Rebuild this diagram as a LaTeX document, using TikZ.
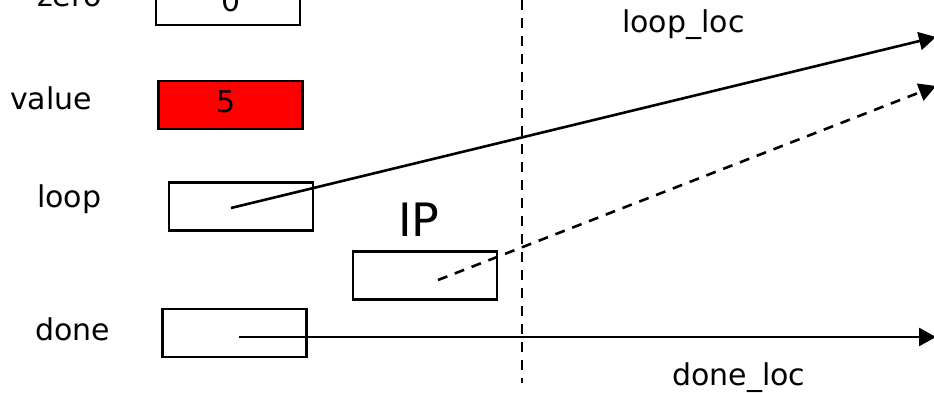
\documentclass[tikz,border=0pt]{standalone}
\usepackage{fontspec}
\setmainfont{DejaVu Sans}
\usetikzlibrary{arrows.meta}
\tikzset{
  cell/.style={draw, line width=2.6pt, minimum width=144pt, minimum height=48pt,
               inner sep=0pt, font=\fontsize{30}{32}\selectfont},
  name label/.style={anchor=base west, inner sep=0pt, font=\fontsize{30}{32}\selectfont},
  pointer/.style={line width=2.6pt, -{Triangle[length=17pt, width=18pt]}},
  dashline/.style={dash pattern=on 10pt off 8pt},
}
\begin{document}
\begin{tikzpicture}[x=1pt, y=-1pt]
  \useasboundingbox (0,0) rectangle (934,393);

  % variable names
  \node[name label] (zerolbl) at (37,7) {zero};
  \node[name label] (valuelbl) at (10,110) {value};
  \node[name label] (looplbl) at (37,207) {loop};
  \node[name label] (donelbl) at (35,340) {done};
  \node[anchor=base west, inner sep=0pt, font=\fontsize{46}{48}\selectfont] (iplbl) at (398,236) {IP};

  % memory cells
  \node[cell] (zero) at (228,1) {};
  \node[anchor=base, inner sep=0pt, font=\fontsize{30}{32}\selectfont] (zeroval) at (231,12) {0};
  \node[cell, fill=red] (value) at (230.5,105) {};
  \node[anchor=base, inner sep=0pt, font=\fontsize{30}{32}\selectfont] (valueval) at (226,113) {5};
  \node[cell] (loop) at (241,206.5) {};
  \node[cell] (ip) at (425,275.5) {};
  \node[cell] (done) at (234.5,333) {};

  % code-region divider
  \coordinate (divtop) at (522,0);
  \coordinate (divbot) at (522,383);
  \draw[line width=2.6pt, dashline] (divtop) -- (divbot);

  % pointer origins and targets
  \coordinate (loopptr) at (231,208);
  \coordinate (ipptr) at (438,280);
  \coordinate (doneptr) at (239,337);
  \coordinate (looptarget) at (936,37);
  \coordinate (iptarget) at (936,86);
  \coordinate (donetarget) at (936,337);

  \draw[pointer] (loopptr) -- (looptarget);
  \draw[pointer, dashline] (ipptr) -- (iptarget);
  \draw[pointer] (doneptr) -- (donetarget);

  % target labels
  \node[name label] (looploc) at (622,33) {loop\_loc};
  \node[name label] (doneloc) at (672,385) {done\_loc};
\end{tikzpicture}
\end{document}
